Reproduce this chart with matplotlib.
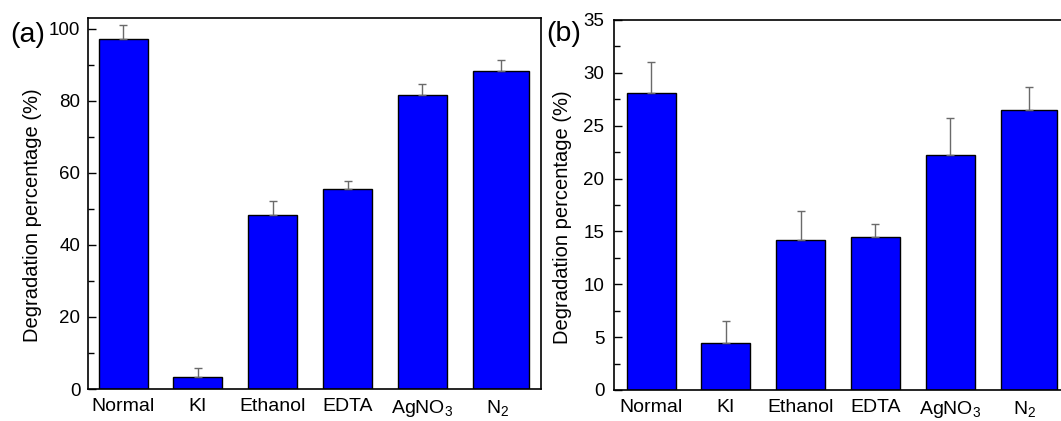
import matplotlib
matplotlib.use("Agg")
import matplotlib.pyplot as plt
from matplotlib.ticker import MultipleLocator

categories = ["Normal", "KI", "Ethanol", "EDTA", "AgNO$_3$", "N$_2$"]
values_a = [97.2, 3.4, 48.3, 55.6, 81.5, 88.3]
errors_a = [3.9, 2.3, 3.9, 2.2, 3.3, 3.1]
values_b = [28.07, 4.4, 14.19, 14.45, 22.26, 26.49]
errors_b = [3.0, 2.15, 2.75, 1.3, 3.45, 2.2]

plt.rcParams["font.family"] = ["Liberation Sans", "DejaVu Sans"]
plt.rcParams["mathtext.fontset"] = "custom"
plt.rcParams["mathtext.rm"] = "Liberation Sans"
plt.rcParams["mathtext.it"] = "Liberation Sans:italic"

W, H = 1061, 421
fig = plt.figure(figsize=(W / 100, H / 100), dpi=100)

unit = 74.8  # px per category


def make_panel(left_px, top_px, bottom_px, xmin, xmax, ymax, vals, errs,
               major, minor, letter, letter_xy, label_x, ypad):
    width_px = (xmax - xmin) * unit
    ax = fig.add_axes([left_px / W, 1 - bottom_px / H, width_px / W,
                       (bottom_px - top_px) / H])
    n = len(vals)
    base_w = 0.655
    widths = [base_w] * (n - 1) + [0.75]
    lefts = [i - base_w / 2 for i in range(n)]
    ax.bar(lefts, vals, width=widths, align="edge", color="#0000FF",
           edgecolor="black", linewidth=1.0, zorder=2)
    centers = [l + w / 2 for l, w in zip(lefts, widths)]
    ax.errorbar(centers, vals, yerr=[[0] * n, errs], fmt="none",
                ecolor="#6a6a6a", elinewidth=1.0, capsize=3.2,
                capthick=1.0, zorder=3)
    ax.set_xlim(xmin, xmax)
    ax.set_ylim(0, ymax)
    ax.set_xticks(range(n))
    ax.set_xticklabels(categories)
    ax.yaxis.set_major_locator(MultipleLocator(major))
    ax.yaxis.set_minor_locator(MultipleLocator(minor))
    ax.tick_params(axis="y", which="major", direction="in", length=6,
                   width=1, labelsize=13.5, pad=ypad, right=False)
    ax.tick_params(axis="y", which="minor", direction="in", length=4,
                   width=1, right=False)
    ax.tick_params(axis="x", which="both", length=0, labelsize=14, pad=6.5)
    for s in ax.spines.values():
        s.set_linewidth(1.2)
    ax.set_ylabel("Degradation percentage (%)", fontsize=14.5)
    ax.yaxis.set_label_coords(label_x, 0.468)
    fig.text(letter_xy[0] / W, 1 - letter_xy[1] / H, letter, fontsize=20.5,
             ha="left", va="center")
    return ax


make_panel(88, 18, 389, -0.47, 5.585, 103, values_a, errors_a, 20, 10,
           "(a)", (10, 35), -0.102, 5.5)
make_panel(614, 20, 390, -0.495, 5.7, 35, values_b, errors_b, 5, 2.5,
           "(b)", (546, 34), -0.09, 7)

fig.savefig("out.png", dpi=100)
